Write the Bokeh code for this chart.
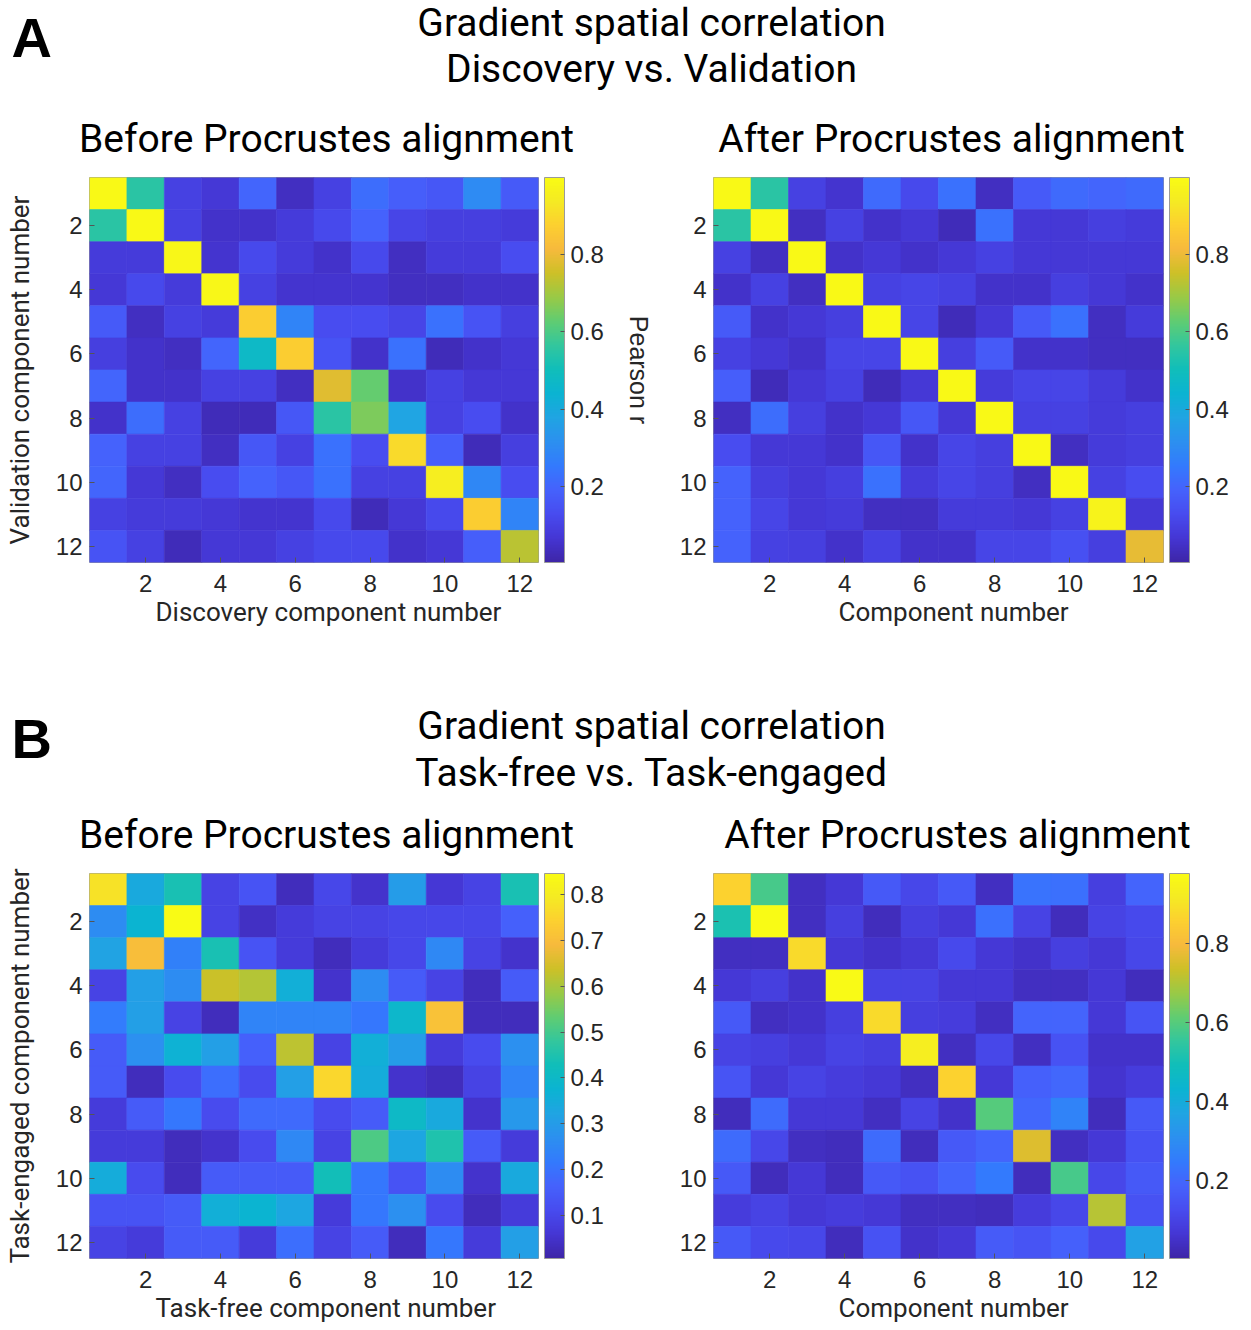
import numpy as np
from bokeh.plotting import figure
from bokeh.models import (Range1d, LinearColorMapper, ColorBar, FixedTicker, LinearAxis,
                          Title, Label, ColumnDataSource)
from bokeh.layouts import column, row
from bokeh.embed import file_html
from bokeh.resources import INLINE

# ---------------- data ----------------
components = list(range(1, 13))
axis_ticks = [2, 4, 6, 8, 10, 12]

# Panel A: Discovery vs. Validation (rows = validation comp, cols = discovery comp)
a_before = [
    [0.99, 0.55, 0.10, 0.07, 0.20, 0.04, 0.10, 0.22, 0.18, 0.16, 0.30, 0.17],
    [0.55, 0.99, 0.10, 0.05, 0.05, 0.08, 0.12, 0.19, 0.11, 0.09, 0.09, 0.08],
    [0.08, 0.08, 0.98, 0.06, 0.12, 0.08, 0.05, 0.12, 0.04, 0.08, 0.08, 0.13],
    [0.07, 0.12, 0.08, 0.98, 0.10, 0.06, 0.06, 0.06, 0.04, 0.04, 0.05, 0.05],
    [0.17, 0.04, 0.10, 0.08, 0.87, 0.28, 0.13, 0.13, 0.11, 0.23, 0.15, 0.09],
    [0.09, 0.05, 0.04, 0.20, 0.47, 0.87, 0.15, 0.05, 0.23, 0.03, 0.05, 0.07],
    [0.20, 0.05, 0.05, 0.10, 0.10, 0.04, 0.78, 0.63, 0.05, 0.10, 0.07, 0.07],
    [0.05, 0.22, 0.10, 0.03, 0.03, 0.16, 0.55, 0.66, 0.38, 0.10, 0.13, 0.05],
    [0.19, 0.10, 0.10, 0.04, 0.16, 0.10, 0.23, 0.13, 0.90, 0.18, 0.03, 0.09],
    [0.20, 0.07, 0.04, 0.13, 0.19, 0.16, 0.23, 0.10, 0.10, 0.95, 0.29, 0.13],
    [0.10, 0.08, 0.08, 0.07, 0.06, 0.06, 0.12, 0.03, 0.07, 0.12, 0.87, 0.28],
    [0.15, 0.10, 0.03, 0.07, 0.07, 0.10, 0.12, 0.12, 0.05, 0.07, 0.18, 0.73],
]
a_after = [
    [0.99, 0.55, 0.10, 0.06, 0.21, 0.12, 0.23, 0.04, 0.17, 0.21, 0.20, 0.21],
    [0.55, 0.99, 0.04, 0.10, 0.05, 0.07, 0.03, 0.23, 0.07, 0.07, 0.09, 0.08],
    [0.10, 0.04, 0.99, 0.05, 0.07, 0.05, 0.07, 0.10, 0.07, 0.07, 0.07, 0.07],
    [0.05, 0.10, 0.04, 0.99, 0.10, 0.11, 0.10, 0.05, 0.05, 0.09, 0.07, 0.05],
    [0.17, 0.05, 0.07, 0.09, 0.99, 0.11, 0.03, 0.07, 0.17, 0.23, 0.04, 0.08],
    [0.10, 0.07, 0.05, 0.11, 0.11, 0.99, 0.09, 0.17, 0.05, 0.05, 0.04, 0.04],
    [0.18, 0.03, 0.07, 0.10, 0.03, 0.07, 0.99, 0.08, 0.11, 0.11, 0.08, 0.05],
    [0.04, 0.22, 0.09, 0.05, 0.07, 0.16, 0.07, 0.99, 0.10, 0.10, 0.08, 0.09],
    [0.13, 0.07, 0.07, 0.05, 0.16, 0.05, 0.11, 0.09, 0.99, 0.04, 0.08, 0.09],
    [0.19, 0.09, 0.07, 0.09, 0.23, 0.08, 0.11, 0.09, 0.04, 0.99, 0.10, 0.13],
    [0.19, 0.11, 0.07, 0.08, 0.04, 0.04, 0.08, 0.08, 0.07, 0.10, 0.97, 0.07],
    [0.19, 0.10, 0.09, 0.05, 0.10, 0.05, 0.05, 0.11, 0.11, 0.14, 0.09, 0.79],
]

# Panel B: Task-free vs. Task-engaged (rows = task-engaged comp, cols = task-free comp)
b_before = [
    [0.78, 0.34, 0.44, 0.09, 0.13, 0.03, 0.10, 0.05, 0.30, 0.06, 0.09, 0.44],
    [0.26, 0.38, 0.846, 0.09, 0.04, 0.07, 0.09, 0.09, 0.10, 0.10, 0.10, 0.16],
    [0.32, 0.70, 0.23, 0.44, 0.13, 0.07, 0.03, 0.07, 0.10, 0.25, 0.09, 0.05],
    [0.09, 0.31, 0.26, 0.635, 0.61, 0.36, 0.05, 0.26, 0.15, 0.09, 0.03, 0.15],
    [0.22, 0.31, 0.09, 0.03, 0.24, 0.24, 0.24, 0.21, 0.39, 0.71, 0.03, 0.03],
    [0.15, 0.27, 0.37, 0.31, 0.16, 0.62, 0.09, 0.36, 0.30, 0.07, 0.11, 0.27],
    [0.15, 0.03, 0.11, 0.19, 0.11, 0.31, 0.755, 0.35, 0.05, 0.03, 0.09, 0.24],
    [0.07, 0.15, 0.21, 0.11, 0.18, 0.18, 0.11, 0.15, 0.40, 0.34, 0.05, 0.29],
    [0.07, 0.07, 0.03, 0.05, 0.11, 0.25, 0.09, 0.51, 0.33, 0.45, 0.15, 0.07],
    [0.35, 0.11, 0.03, 0.15, 0.15, 0.15, 0.43, 0.21, 0.13, 0.26, 0.05, 0.34],
    [0.13, 0.13, 0.15, 0.36, 0.38, 0.33, 0.07, 0.21, 0.27, 0.11, 0.03, 0.07],
    [0.09, 0.07, 0.15, 0.15, 0.07, 0.19, 0.09, 0.15, 0.03, 0.21, 0.07, 0.31],
]
b_after = [
    [0.86, 0.58, 0.04, 0.07, 0.16, 0.11, 0.16, 0.04, 0.23, 0.22, 0.09, 0.19],
    [0.51, 0.977, 0.04, 0.09, 0.03, 0.09, 0.07, 0.22, 0.10, 0.03, 0.10, 0.12],
    [0.04, 0.04, 0.88, 0.07, 0.05, 0.07, 0.12, 0.07, 0.05, 0.09, 0.07, 0.11],
    [0.07, 0.09, 0.05, 0.97, 0.10, 0.10, 0.07, 0.07, 0.04, 0.04, 0.07, 0.03],
    [0.16, 0.04, 0.05, 0.09, 0.88, 0.09, 0.08, 0.04, 0.19, 0.19, 0.07, 0.15],
    [0.10, 0.09, 0.07, 0.10, 0.09, 0.93, 0.04, 0.11, 0.04, 0.14, 0.05, 0.05],
    [0.15, 0.07, 0.10, 0.08, 0.07, 0.04, 0.86, 0.07, 0.18, 0.20, 0.06, 0.08],
    [0.03, 0.21, 0.07, 0.07, 0.04, 0.10, 0.05, 0.60, 0.20, 0.27, 0.03, 0.16],
    [0.21, 0.11, 0.04, 0.03, 0.21, 0.03, 0.16, 0.19, 0.76, 0.04, 0.07, 0.14],
    [0.16, 0.03, 0.07, 0.03, 0.16, 0.14, 0.19, 0.25, 0.03, 0.58, 0.11, 0.16],
    [0.08, 0.10, 0.07, 0.08, 0.07, 0.04, 0.04, 0.03, 0.08, 0.11, 0.71, 0.14],
    [0.16, 0.12, 0.11, 0.03, 0.14, 0.05, 0.07, 0.17, 0.15, 0.18, 0.12, 0.36],
]

# colour limits
a_before_clim = (0.003, 0.999)
a_after_clim = (0.003, 0.999)
b_before_clim = (0.006, 0.846)
b_after_clim = (0.003, 0.977)
a_cbar_ticks = [0.2, 0.4, 0.6, 0.8]
b_before_cbar_ticks = [0.1, 0.2, 0.3, 0.4, 0.5, 0.6, 0.7, 0.8]
b_after_cbar_ticks = [0.2, 0.4, 0.6, 0.8]

# ---------------- parula palette ----------------
_anchors = np.array([
    (0.2422, 0.1504, 0.6603), (0.2704, 0.2138, 0.8346), (0.2813, 0.2985, 0.9397),
    (0.2710, 0.3860, 0.9898), (0.2006, 0.4803, 0.9906), (0.1716, 0.5655, 0.9393),
    (0.1253, 0.6453, 0.8887), (0.0433, 0.7039, 0.8242), (0.0638, 0.7446, 0.7292),
    (0.2003, 0.7787, 0.6146), (0.3795, 0.8026, 0.4454), (0.6024, 0.7896, 0.2726),
    (0.8060, 0.7529, 0.1546), (0.9689, 0.7292, 0.2373), (0.9885, 0.8156, 0.1875),
    (0.9601, 0.9203, 0.1382), (0.9769, 0.9839, 0.0805)])
_pos = np.array([0, 16, 32, 48, 64, 80, 96, 112, 128, 144, 160, 176, 192, 208, 224, 240, 255]) / 255.0
_t = np.linspace(0, 1, 256)
PARULA = []
for tt in _t:
    rgb = [np.interp(tt, _pos, _anchors[:, k]) for k in range(3)]
    PARULA.append("#%02x%02x%02x" % tuple(int(round(c * 255)) for c in rgb))

TICK_FONT = "Liberation Sans"
LABEL_FONT = "Roboto"
TXT = "#262626"


def heat_panel(mat, clim, cticks, xlabel, xlabel_left, ylabel,
               left, right, top, bottom, fw, pearson=False):
    fh = 385
    p = figure(width=left + fw + right, height=top + fh + bottom,
               frame_width=fw, frame_height=fh,
               x_range=Range1d(0.5, 12.5), y_range=Range1d(12.5, 0.5),
               output_backend="svg", toolbar_location=None,
               min_border_left=left, min_border_right=right,
               min_border_top=top, min_border_bottom=bottom)
    xs, ys, vs = [], [], []
    for r in range(12):
        for c in range(12):
            xs.append(components[c])
            ys.append(components[r])
            vs.append(mat[r][c])
    src = ColumnDataSource(dict(x=xs, y=ys, v=vs))
    mapper = LinearColorMapper(palette=PARULA, low=clim[0], high=clim[1])
    p.rect(x="x", y="y", width=1, height=1, source=src,
           fill_color={"field": "v", "transform": mapper},
           line_color={"field": "v", "transform": mapper}, line_width=0.6)
    p.xgrid.visible = False
    p.ygrid.visible = False
    p.outline_line_color = "#9a9a9a"
    p.outline_line_width = 1
    p.background_fill_color = "white"
    p.border_fill_color = "white"
    for ax in (p.xaxis[0], p.yaxis[0]):
        ax.ticker = FixedTicker(ticks=axis_ticks)
        ax.major_label_text_font = TICK_FONT
        ax.major_label_text_font_size = "24px"
        ax.major_label_text_color = TXT
        ax.axis_line_color = None
        ax.major_tick_in = 5
        ax.major_tick_out = 0
        ax.major_tick_line_color = "#555555"
        ax.minor_tick_line_color = None
    p.xaxis[0].major_label_standoff = 12
    p.yaxis[0].major_label_standoff = 7
    if ylabel:
        p.yaxis[0].axis_label = ylabel
        p.yaxis[0].axis_label_text_font = LABEL_FONT
        p.yaxis[0].axis_label_text_font_size = "26px"
        p.yaxis[0].axis_label_text_font_style = "normal"
        p.yaxis[0].axis_label_text_color = TXT
        p.yaxis[0].axis_label_standoff = 18
    # x label as a title below the axis (placed as in the original, slightly right of centre)
    p.add_layout(Title(text=xlabel, align="left", offset=xlabel_left,
                       text_font=LABEL_FONT, text_font_size="26px",
                       text_font_style="normal", text_color=TXT, standoff=0), "below")
    cb = ColorBar(color_mapper=mapper, ticker=FixedTicker(ticks=cticks),
                  width=20, height=fh, padding=0, margin=0, location=(6, 0),
                  major_label_text_font=TICK_FONT, major_label_text_font_size="24px",
                  major_label_text_color=TXT, label_standoff=6,
                  major_tick_in=4, major_tick_out=0, major_tick_line_color="#555555",
                  minor_tick_line_color=None,
                  bar_line_color="#9a9a9a", border_line_color=None,
                  background_fill_color="white")
    p.add_layout(cb, "right")
    if pearson:
        ax = LinearAxis(ticker=FixedTicker(ticks=[]), axis_label="Pearson r",
                        axis_label_text_font=TICK_FONT, axis_label_text_font_size="25px",
                        axis_label_text_font_style="normal", axis_label_text_color=TXT,
                        axis_line_color=None, major_tick_line_color=None,
                        minor_tick_line_color=None, axis_label_standoff=18)
        p.add_layout(ax, "right")
    return p


def header(height, letter, letter_y, line1, y1, line2, y2, sub_y, subs):
    p = figure(width=1246, height=height, x_range=Range1d(0, 1246), y_range=Range1d(height, 0),
               output_backend="svg", toolbar_location=None, x_axis_type=None, y_axis_type=None,
               min_border_left=0, min_border_right=0, min_border_top=0, min_border_bottom=0)
    p.outline_line_color = None
    p.xgrid.visible = False
    p.ygrid.visible = False
    p.add_layout(Label(x=11, y=letter_y, text=letter, text_font="Liberation Sans",
                       text_font_size="56px", text_font_style="bold", text_color="black",
                       text_baseline="middle", text_align="left"))
    for txt, yy in ((line1, y1), (line2, y2)):
        p.add_layout(Label(x=651, y=yy, text=txt, text_font=LABEL_FONT, text_font_size="39px",
                           text_color="black", text_baseline="middle", text_align="center"))
    for txt, xx in subs:
        p.add_layout(Label(x=xx, y=sub_y, text=txt, text_font=LABEL_FONT, text_font_size="39px",
                           text_color="black", text_baseline="middle", text_align="center"))
    return p


hA = header(165, "A", 37, "Gradient spatial correlation", 22, "Discovery vs. Validation", 68,
            138, [("Before Procrustes alignment", 326), ("After Procrustes alignment", 951)])
pA1 = heat_panel(a_before, a_before_clim, a_cbar_ticks, "Discovery component number", 66,
                 "Validation component number", 89, 122, 12, 80, 449, pearson=True)
pA2 = heat_panel(a_after, a_after_clim, a_cbar_ticks, "Component number", 125, None,
                 53, 83, 12, 80, 450)
hB = header(219, "B", 96, "Gradient spatial correlation", 83, "Task-free vs. Task-engaged", 130,
            192, [("Before Procrustes alignment", 326), ("After Procrustes alignment", 957)])
pB1 = heat_panel(b_before, b_before_clim, b_before_cbar_ticks, "Task-free component number", 66,
                 "Task-engaged component number", 89, 122, 12, 70, 449)
pB2 = heat_panel(b_after, b_after_clim, b_after_cbar_ticks, "Component number", 125, None,
                 53, 83, 12, 70, 450)

layout = column(hA, row(pA1, pA2), hB, row(pB1, pB2))
open("out.html", "w").write(file_html(layout, INLINE))
